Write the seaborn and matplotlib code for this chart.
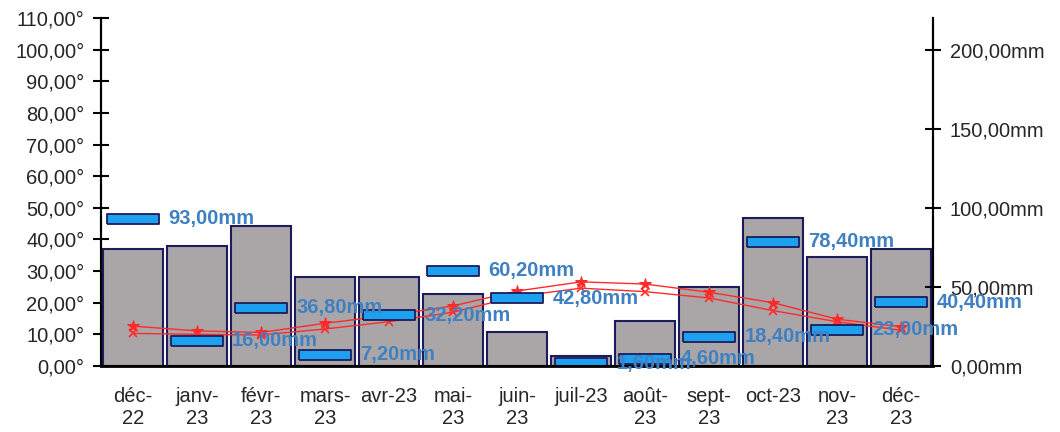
import numpy as np
import pandas as pd
import seaborn as sns
import matplotlib.pyplot as plt
from matplotlib.ticker import FixedLocator, FuncFormatter

# données
mois = ['déc-\n22', 'janv-\n23', 'févr-\n23', 'mars-\n23', 'avr-23', 'mai-\n23', 'juin-\n23',
        'juil-23', 'août-\n23', 'sept-\n23', 'oct-23', 'nov-\n23', 'déc-\n23']
barres_grises = [37.0, 38.0, 44.2, 28.0, 28.0, 22.7, 10.8, 3.2, 14.3, 24.9, 46.9, 34.6, 36.9]
pluie_mm = [93.0, 16.0, 36.8, 7.2, 32.2, 60.2, 42.8, 1.6, 4.6, 18.4, 78.4, 23.0, 40.4]
temp_haute = [12.6, 11.1, 10.6, 13.5, 16.0, 19.0, 23.7, 26.6, 25.9, 23.3, 20.0, 14.8, 12.4]
temp_basse = [10.3, 10.0, 9.8, 11.7, 14.0, 17.0, 22.0, 24.6, 23.5, 21.5, 17.5, 14.0, 11.3]

df = pd.DataFrame({
    'mois': mois,
    'pos': np.arange(len(mois)),
    'gris': barres_grises,
    'pluie': pluie_mm,
    'haute': temp_haute,
    'basse': temp_basse,
})

sns.set_style('white')
plt.rcParams['font.family'] = ['Liberation Sans', 'DejaVu Sans']

fig = plt.figure(figsize=(10.6, 4.32), dpi=100)
ax = fig.add_axes([0.0953, 0.1528, 0.785, 0.8055])

# barres grises (axe gauche)
sns.barplot(data=df, x='mois', y='gris', color='#aaa6a8', saturation=1, width=0.93,
            edgecolor='#1c1c5a', linewidth=1.5, ax=ax)

# températures
sns.lineplot(data=df, x='pos', y='haute', color='#ff2a2a', linewidth=1, marker='*',
             markersize=9, markeredgecolor='#ff2a2a', ax=ax)
sns.lineplot(data=df, x='pos', y='basse', color='#ff2a2a', linewidth=1, marker='x',
             markersize=6, markeredgecolor='#ff2a2a', mew=1.2, ax=ax)

ax.set_xlim(-0.5, len(mois) - 0.5)
ax.set_ylim(0, 110)
ax.yaxis.set_major_locator(FixedLocator(np.arange(0, 111, 10)))
ax.yaxis.set_major_formatter(FuncFormatter(lambda v, p: f'{v:.2f}°'.replace('.', ',')))

# axe droit : pluie en mm
ax2 = ax.twinx()
rect = [(-1, -0.19), (1, -0.19), (1, 0.19), (-1, 0.19), (-1, -0.19)]
ax2.plot(df['pos'], df['pluie'], linestyle='none', marker=rect, markersize=38,
         markerfacecolor='#1ea0f0', markeredgecolor='#1c1c5a', markeredgewidth=1.3)
for i, v in enumerate(pluie_mm):
    ax2.text(i + 0.55, v, f'{v:.2f}mm'.replace('.', ','), ha='left', va='center',
             fontsize=14.5, fontweight='bold', color='#3f80c2')
ax2.set_ylim(0, 220)
ax2.yaxis.set_major_locator(FixedLocator([0, 50, 100, 150, 200]))
ax2.yaxis.set_major_formatter(FuncFormatter(lambda v, p: f'{v:.2f}mm'.replace('.', ',')))

# ticks de l'axe x aux limites des catégories, libellés au centre
ax.xaxis.set_major_locator(FixedLocator(np.arange(-0.5, len(mois), 1)))
ax.xaxis.set_major_formatter(FuncFormatter(lambda v, p: ''))
ax.xaxis.set_minor_locator(FixedLocator(np.arange(len(mois))))
ax.set_xticklabels(mois, minor=True, linespacing=1.2)
ax.tick_params(axis='x', which='minor', length=0, pad=15, labelsize=14.5, labelcolor='#262626')
ax.tick_params(axis='x', which='major', direction='inout', length=10, width=1.5, color='black')
ax.tick_params(axis='y', direction='inout', length=12, width=1.5, pad=6, labelsize=14.5,
               labelcolor='#262626', color='black', left=True)
ax2.tick_params(axis='y', direction='inout', length=12, width=1.5, pad=6, labelsize=14.5,
                labelcolor='#262626', color='black', right=True)

ax.set_xlabel('')
ax.set_ylabel('')
ax2.set_ylabel('')
for a in (ax, ax2):
    a.spines['top'].set_visible(False)
    for s in ('left', 'right', 'bottom'):
        a.spines[s].set_color('black')
        a.spines[s].set_linewidth(1.5)
ax.spines['bottom'].set_linewidth(2)

fig.savefig('out.png', dpi=100)
